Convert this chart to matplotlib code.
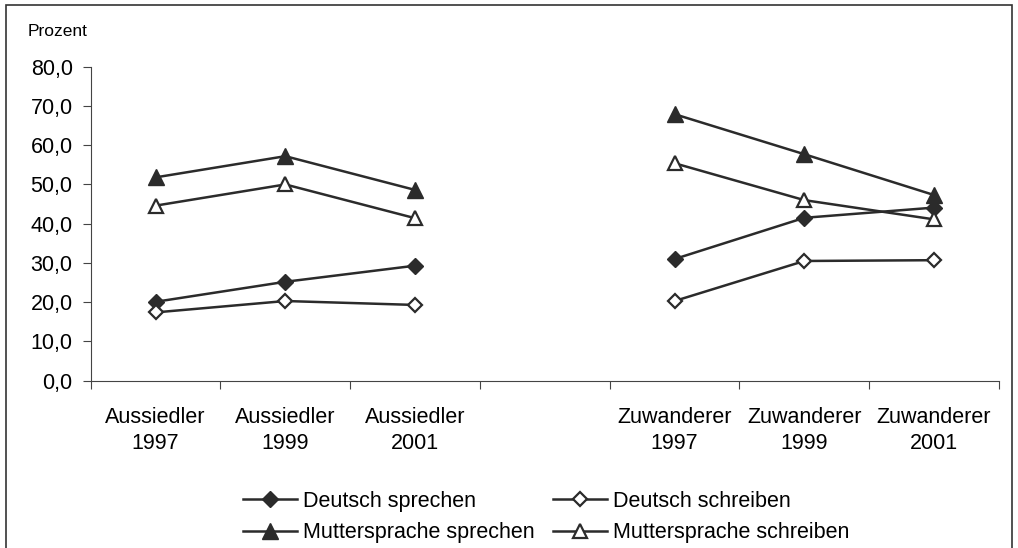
import numpy as np
import matplotlib.pyplot as plt
from matplotlib.patches import Rectangle

plt.rcParams['font.family'] = ['Liberation Sans', 'DejaVu Sans']

# Kategorien (Index 3 ist die Lücke zwischen den Gruppen)
categories = ["Aussiedler\n1997", "Aussiedler\n1999", "Aussiedler\n2001", "",
              "Zuwanderer\n1997", "Zuwanderer\n1999", "Zuwanderer\n2001"]

nan = np.nan
deutsch_sprechen = [20.1, 25.2, 29.3, nan, 31.0, 41.5, 44.1]
deutsch_schreiben = [17.4, 20.3, 19.3, nan, 20.3, 30.5, 30.7]
mutter_sprechen = [51.8, 57.2, 48.6, nan, 67.9, 57.7, 47.3]
mutter_schreiben = [44.6, 50.0, 41.4, nan, 55.4, 46.0, 41.1]

yticks = [0, 10, 20, 30, 40, 50, 60, 70, 80]

col = '#2b2b2b'
x = np.arange(len(categories))

fig = plt.figure(figsize=(10.18, 5.48), dpi=100)
ax = fig.add_axes([0.0891, 0.3053, 0.8922, 0.5730])

l1, = ax.plot(x, deutsch_sprechen, color=col, lw=1.8, marker='D', ms=8.5,
              mfc=col, mec=col, label='Deutsch sprechen')
l2, = ax.plot(x, deutsch_schreiben, color=col, lw=1.8, marker='D', ms=7.5,
              mfc='white', mec=col, mew=1.6, label='Deutsch schreiben')
l3, = ax.plot(x, mutter_sprechen, color=col, lw=1.8, marker='^', ms=11,
              mfc=col, mec=col, label='Muttersprache sprechen')
l4, = ax.plot(x, mutter_schreiben, color=col, lw=1.8, marker='^', ms=10,
              mfc='white', mec=col, mew=1.6, label='Muttersprache schreiben')

ax.set_xlim(-0.5, len(categories) - 0.5)
ax.set_ylim(0, 80)
ax.set_yticks(yticks)
ax.set_yticklabels([f"{v:.1f}".replace('.', ',') for v in yticks], fontsize=15.5)

# Teilstriche an den Kategoriegrenzen, Beschriftung mittig
ax.set_xticks(np.arange(len(categories) + 1) - 0.5)
ax.set_xticklabels([])
ax.set_xticks(x, minor=True)
ax.set_xticklabels(categories, minor=True, fontsize=15.5, linespacing=1.32)
ax.tick_params(axis='x', which='minor', length=0, pad=19)
ax.tick_params(axis='x', which='major', length=5.5, width=0.8, color='#444444')
ax.tick_params(axis='y', length=6, width=0.8, color='#444444', pad=7)

for s in ['top', 'right']:
    ax.spines[s].set_visible(False)
for s in ['left', 'bottom']:
    ax.spines[s].set_color('#444444')
    ax.spines[s].set_linewidth(0.8)

fig.text(28 / 1018, 1 - 31.5 / 548, 'Prozent', fontsize=12.5, va='center', ha='left')

# Reihenfolge so, dass Zeile 1 "Deutsch ..." und Zeile 2 "Muttersprache ..." enthält
fig.legend([l1, l3, l2, l4],
           [l1.get_label(), l3.get_label(), l2.get_label(), l4.get_label()],
           loc='center left', bbox_to_anchor=(243 / 1018, 1 - 517 / 548), ncol=2,
           frameon=False, fontsize=15.5, handlelength=2.5, borderpad=0,
           borderaxespad=0, handletextpad=0.28, columnspacing=0.85,
           labelspacing=0.5)

# Rahmen um die Grafik
fig.patches.append(Rectangle((6 / 1018, -0.05), 1006 / 1018, 1 - 5 / 548 + 0.05,
                             transform=fig.transFigure, fill=False,
                             edgecolor='#333333', linewidth=1.2))

fig.savefig('out.png', dpi=100)
